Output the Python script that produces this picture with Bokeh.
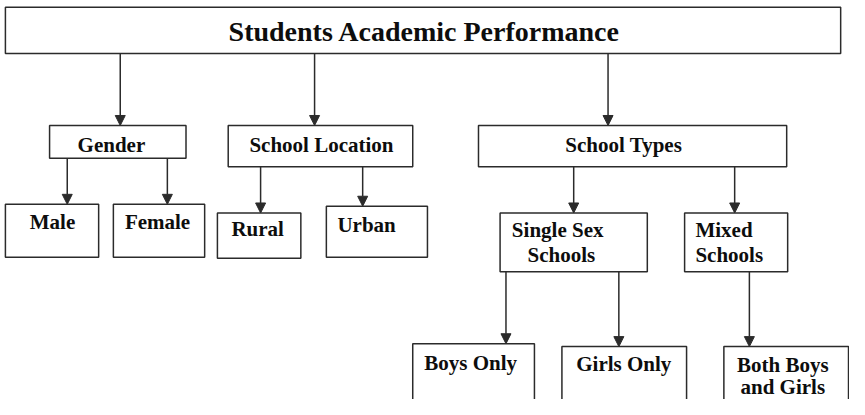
from bokeh.plotting import figure
from bokeh.models import Range1d, Arrow, NormalHead
from bokeh.core.properties import value
from bokeh.embed import file_html
from bokeh.resources import INLINE

# Node labels
box_labels = ["Students Academic Performance", "Gender", "School Location", "School Types",
              "Male", "Female", "Rural", "Urban",
              "Single Sex Schools", "Mixed Schools",
              "Boys Only", "Girls Only", "Both Boys and Girls"]
# Box geometry (diagram pixel coordinates)
box_left   = [5, 50, 232, 487, 5, 115, 221, 332, 509, 697, 420, 572, 737]
box_right  = [856, 189, 420, 801, 100, 208, 306, 435, 659, 802, 544, 699, 864]
box_top    = [7, 130, 130, 130, 212, 212, 221, 214, 221, 221, 357, 360, 360]
box_bottom = [55, 164, 173, 173, 267, 267, 268, 267, 282, 282, 425, 425, 425]

# Connectors: x, start y, end y
arrow_x  = [122, 320, 619, 68, 170, 265, 369, 584, 748, 515, 630, 763]
arrow_y0 = [55, 55, 55, 164, 164, 173, 173, 173, 173, 282, 282, 282]
arrow_y1 = [130, 130, 130, 212, 212, 221, 214, 221, 221, 357, 360, 360]

# Text lines
center_text = ["Gender", "School Location", "School Types", "Male", "Female", "Rural", "Urban",
               "Boys Only", "Girls Only", "Both Boys", "and Girls"]
center_x = [113, 327, 635, 53, 160, 262, 373, 479, 635, 797, 797]
center_y = [150, 150, 150, 230, 230, 238, 233, 377, 378, 379, 402]
left_text = ["Single Sex", "Schools", "Mixed", "Schools"]
left_x = [521, 537, 708, 708]
left_y = [239, 265, 239, 265]

W, H = 849, 399
p = figure(width=W, height=H, output_backend="svg", toolbar_location=None,
           x_range=Range1d(0, 865), y_range=Range1d(415, 0), min_border=0)
p.axis.visible = False
p.grid.visible = False
p.outline_line_color = None
p.background_fill_color = "white"

LC = "#2b2b2b"
p.quad(left=box_left, right=box_right, top=box_top, bottom=box_bottom,
       fill_color="white", line_color=LC, line_width=1.5)

for x, y0, y1 in zip(arrow_x, arrow_y0, arrow_y1):
    p.add_layout(Arrow(end=NormalHead(size=10, fill_color=LC, line_color=LC, line_width=1),
                       x_start=x, y_start=y0, x_end=x, y_end=y1,
                       line_color=LC, line_width=1.5))

FONT = value("Liberation Serif")
p.text(x=[432], y=[32], text=[box_labels[0]], text_font=FONT,
       text_font_style="bold", text_font_size="28px", text_align="center",
       text_baseline="middle", text_color="#0d0d0d")
p.text(x=center_x, y=center_y, text=center_text, text_font=FONT,
       text_font_style="bold", text_font_size="21px", text_align="center",
       text_baseline="middle", text_color="#0d0d0d")
p.text(x=left_x, y=left_y, text=left_text, text_font=FONT,
       text_font_style="bold", text_font_size="21px", text_align="left",
       text_baseline="middle", text_color="#0d0d0d")

open("out.html", "w").write(file_html(p, INLINE))
